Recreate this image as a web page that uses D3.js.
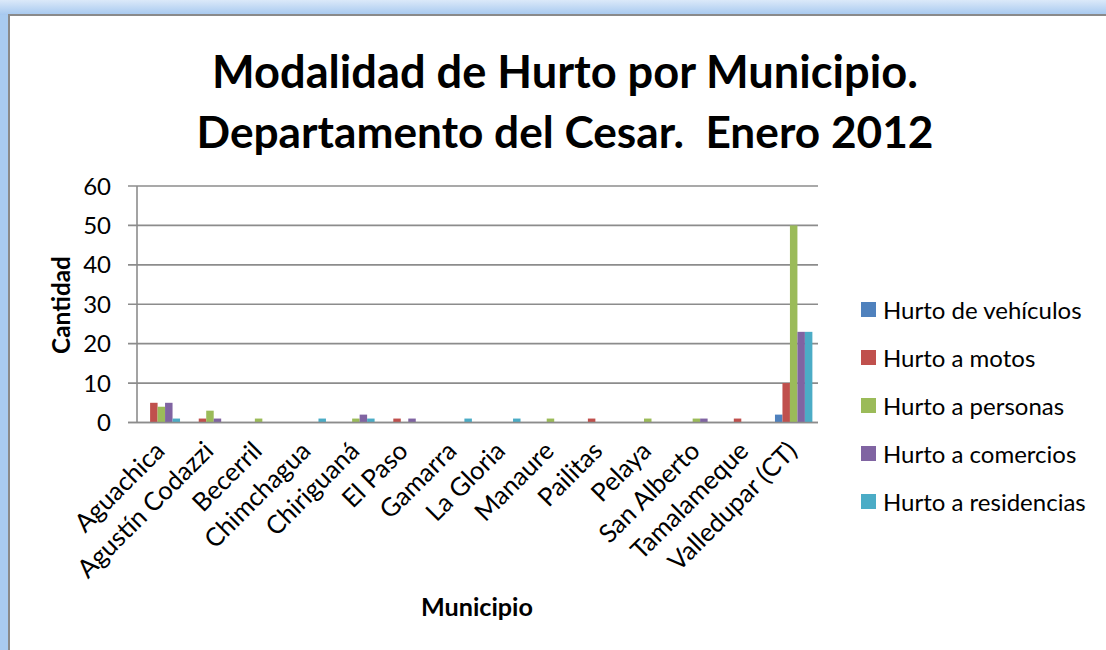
<!DOCTYPE html>
<html><head><meta charset="utf-8">
<script src="https://cdn.jsdelivr.net/npm/d3@7"></script>
<style>body{margin:0;padding:0;overflow:hidden;background:#fff} text{white-space:pre}</style>
</head><body>
<svg id="chart" width="1106" height="650"></svg>
<script>
const categories = ["Aguachica","Agustín Codazzi","Becerril","Chimchagua","Chiriguaná","El Paso","Gamarra","La Gloria","Manaure","Pailitas","Pelaya","San Alberto","Tamalameque","Valledupar (CT)"];
const seriesNames = ["Hurto de vehículos","Hurto a motos","Hurto a personas","Hurto a comercios","Hurto a residencias"];
const vehiculos   = [0,0,0,0,0,0,0,0,0,0,0,0,0,2];
const motos       = [5,1,0,0,0,1,0,0,0,1,0,0,1,10];
const personas    = [4,3,1,0,1,0,0,0,1,0,1,1,0,50];
const comercios   = [5,1,0,0,2,1,0,0,0,0,0,1,0,23];
const residencias = [1,0,0,1,1,0,1,1,0,0,0,0,0,23];
const yTicks = [0,10,20,30,40,50,60];
const colors = ["#4F81BD","#C0504D","#9BBB59","#8064A2","#4BACC6"];
const titleLines = ["Modalidad de Hurto por Municipio.","Departamento del Cesar.  Enero 2012"];
const yTitle = "Cantidad";
const xTitle = "Municipio";

const seriesValues = [vehiculos, motos, personas, comercios, residencias];
const FONT = "Lato, 'Open Sans', sans-serif";
const svg = d3.select("#chart");

// frame
const defs = svg.append("defs");
const g1 = defs.append("linearGradient").attr("id","topg").attr("x1",0).attr("y1",0).attr("x2",0).attr("y2",1);
g1.append("stop").attr("offset","0%").attr("stop-color","#dbe9f9");
g1.append("stop").attr("offset","100%").attr("stop-color","#a6c8ef");
svg.append("rect").attr("x",0).attr("y",0).attr("width",1106).attr("height",650).attr("fill","#a9cbf0");
svg.append("rect").attr("x",0).attr("y",0).attr("width",1106).attr("height",15).attr("fill","url(#topg)");
svg.append("rect").attr("x",9).attr("y",15).attr("width",1110).attr("height",650).attr("fill","#fff")
  .attr("stroke","#8a8a8a").attr("stroke-width",2);

const plot = {left:137, right:818, top:186, bottom:422.5};
const x = d3.scaleBand().domain(categories).range([plot.left, plot.right]).paddingInner(0).paddingOuter(0);
const xs = d3.scaleBand().domain(seriesNames).range([0, x.bandwidth()]).paddingInner(0).paddingOuter(0.75);
const y = d3.scaleLinear().domain([0,60]).range([plot.bottom, plot.top]);

// gridlines
svg.append("g").selectAll("line").data(yTicks).join("line")
  .attr("x1", plot.left-9).attr("x2", plot.right)
  .attr("y1", d=>y(d)).attr("y2", d=>y(d))
  .attr("stroke","#8c8c8c").attr("stroke-width",1.6);
// y axis line
svg.append("line").attr("x1",plot.left).attr("x2",plot.left).attr("y1",plot.top).attr("y2",plot.bottom)
  .attr("stroke","#8c8c8c").attr("stroke-width",1.6);

// y tick labels
svg.append("g").selectAll("text").data(yTicks).join("text")
  .attr("x", 111).attr("y", d=>y(d)).attr("dy","0.36em")
  .attr("text-anchor","end").attr("font-family",FONT).attr("font-size",24).attr("fill","#000")
  .text(d=>d);

// bars
const barsG = svg.append("g");
seriesNames.forEach((s,si)=>{
  barsG.append("g").selectAll("rect").data(categories.map((c,i)=>({c, v:seriesValues[si][i]})))
    .join("rect")
    .attr("x", d=>x(d.c)+xs(s))
    .attr("width", xs.bandwidth())
    .attr("y", d=>y(d.v))
    .attr("height", d=>y(0)-y(d.v))
    .attr("fill", colors[si]);
});
// baseline over bars
svg.append("line").attr("x1",plot.left-9).attr("x2",plot.right).attr("y1",y(0)).attr("y2",y(0))
  .attr("stroke","#8c8c8c").attr("stroke-width",1.6);

// x labels
svg.append("g").selectAll("text").data(categories).join("text")
  .attr("transform", d=>`translate(${x(d)+x.bandwidth()/2+5},${plot.bottom+30}) rotate(-45)`)
  .attr("text-anchor","end").attr("font-family",FONT).attr("font-size",25.5).attr("fill","#000")
  .text(d=>d);

// titles
function fit(sel, w){ const l = sel.node().getComputedTextLength(); const fs = parseFloat(sel.attr("font-size")); sel.attr("font-size", fs*w/l); }
const t1 = svg.append("text").attr("x",565).attr("y",88).attr("text-anchor","middle")
  .attr("font-family",FONT).attr("font-weight","bold").attr("font-size",44).text(titleLines[0]);
fit(t1,706);
const t2 = svg.append("text").attr("x",565).attr("y",148).attr("text-anchor","middle")
  .attr("font-family",FONT).attr("font-weight","bold").attr("font-size",44).text(titleLines[1]);
fit(t2,737);

const yt = svg.append("text").attr("transform","translate(70,305) rotate(-90)").attr("text-anchor","middle")
  .attr("font-family",FONT).attr("font-weight","bold").attr("font-size",20).text(yTitle);
fit(yt,98);
const xt = svg.append("text").attr("x",477).attr("y",616).attr("text-anchor","middle")
  .attr("font-family",FONT).attr("font-weight","bold").attr("font-size",20).text(xTitle);
fit(xt,112);

// legend
const lg = svg.append("g").selectAll("g").data(seriesNames).join("g")
  .attr("transform",(d,i)=>`translate(861,${310+i*48})`);
lg.append("rect").attr("x",0).attr("y",-8).attr("width",15).attr("height",15).attr("fill",(d,i)=>colors[i]);
lg.append("text").attr("x",22).attr("y",0).attr("dy","0.36em").attr("font-family",FONT).attr("font-size",24)
  .attr("fill","#000").text(d=>d);
</script>
</body></html>
